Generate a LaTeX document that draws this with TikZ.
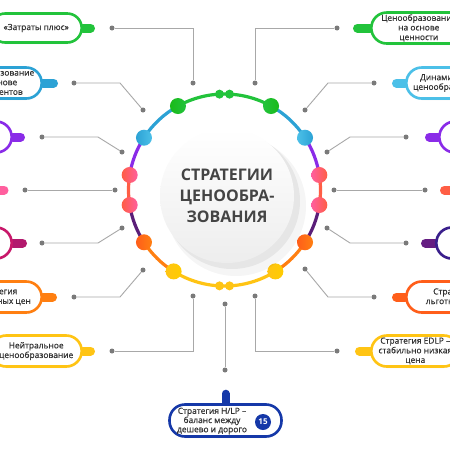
\documentclass[tikz,border=0pt]{standalone}
\usepackage{fontspec}
\setmainfont{Open Sans}
\newfontfamily\boxfont{Open Sans}[FakeBold=0.5]
\usetikzlibrary{shadows, backgrounds}

\definecolor{txtgray}{HTML}{333333}
\definecolor{hubgray}{HTML}{444444}
\definecolor{linkgray}{HTML}{A8A8A8}
\definecolor{dotgray}{HTML}{7A7A7A}
\definecolor{cgreen}{HTML}{22C33B}
\definecolor{cblue}{HTML}{2CA2D5}
\definecolor{clblue}{HTML}{4CC0E8}
\definecolor{cviolet}{HTML}{8A2BE8}
\definecolor{cpink}{HTML}{FF5F9E}
\definecolor{cred}{HTML}{FF5E45}
\definecolor{cmagenta}{HTML}{C8186A}
\definecolor{cplum}{HTML}{5A1E78}
\definecolor{cindigo}{HTML}{3A1F8C}
\definecolor{corange}{HTML}{FF7F11}
\definecolor{cdorange}{HTML}{FF5E1A}
\definecolor{cyellow}{HTML}{FFC414}
\definecolor{cnavy}{HTML}{1538A8}

\begin{document}
\begin{tikzpicture}[x=1pt, y=-1pt,
        box/.style={draw, line width=2.6pt, fill=white,
            rounded corners=15.5pt, minimum height=31pt,
            inner xsep=3pt, inner ysep=1pt, align=center, text=txtgray,
            font=\boxfont\fontsize{8.4}{9.6}\selectfont,
            drop shadow={opacity=0.15, shadow xshift=0pt, shadow yshift=-1.5pt}},
        tab/.style={line width=9pt, line cap=round},
        dot/.style={circle, fill=dotgray, inner sep=0pt, minimum size=5pt},
        link/.style={draw=linkgray, line width=0.9pt},
        bead/.style={circle, inner sep=0pt, minimum size=16pt},
        pip/.style={circle, inner sep=0pt, minimum size=9pt},
        ring/.style={line width=3.2pt}]

    \useasboundingbox (0,0) rectangle (450,450);
    \clip (0,0) rectangle (450,450);
    \begin{scope}[on background layer]
        \fill[white] (0,0) rectangle (450,450);
    \end{scope}

    % Left boxes
    \node (zatr) [box, draw=cgreen, anchor=east, minimum width=91pt,
        minimum height=29pt, rounded corners=14.5pt] at (83,28) {«Затраты плюс»};
    \node (konk) [box, draw=cblue, anchor=east, minimum width=90pt]
        at (43,83) {Ценообразование\\на основе\\конкурентов};
    \node (left3) [box, draw=cviolet, anchor=east, minimum width=90pt] at (13,137) {};
    \node (left4) [box, draw=cpink, anchor=east, minimum width=90pt] at (-3,190) {};
    \node (left5) [box, draw=cmagenta, anchor=east, minimum width=90pt] at (13,243) {};
    \node (prest) [box, draw=corange, anchor=east, minimum width=90pt]
        at (43,297) {Стратегия\\престижных цен};
    \node (neutr) [box, draw=cyellow, anchor=east, minimum width=91pt]
        at (83,351) {Нейтральное\\ценообразование};

    % Right boxes
    \node (cenn) [box, draw=cgreen, anchor=west, minimum width=95pt]
        at (370,28) {Ценообразование\\на основе\\ценности};
    \node (dinam) [box, draw=clblue, anchor=west, minimum width=88pt]
        at (405,83) {Динамическое\\ценообразование};
    \node (right3) [box, draw=cviolet, anchor=west, minimum width=90pt] at (438,137) {};
    \node (right4) [box, draw=cred, anchor=west, minimum width=90pt] at (453,190) {};
    \node (right5) [box, draw=cindigo, anchor=west, minimum width=90pt] at (435,243) {};
    \node (lgot) [box, draw=cdorange, anchor=west, minimum width=95pt]
        at (405,297) {Стратегия\\льготных цен};
    \node (edlp) [box, draw=cyellow, anchor=west, minimum width=88pt]
        at (370,351) {Стратегия EDLP –\\стабильно низкая\\цена};

    % Bottom box
    \node (hlp) [box, draw=cnavy, minimum width=112pt, minimum height=32pt]
        at (225.5,420.5) {};
    \node (hlptxt) [align=center, text=txtgray, inner sep=0pt,
        font=\boxfont\fontsize{8.4}{9.2}\selectfont] at (212,421)
        {Стратегия H/LP –\\баланс между\\дешево и дорого};
    \node (num) [circle, fill=cnavy, text=white, inner sep=0pt, minimum size=16pt,
        font=\bfseries\fontsize{8}{8}\selectfont] at (263,422) {15};

    % Tabs
    \begin{scope}[on background layer]
        \draw[tab, cgreen] (zatr.east) -- ++(7.5,0);
        \draw[tab, cblue] (konk.east) -- ++(10.5,0);
        \draw[tab, cviolet] (left3.east) -- ++(7.5,0);
        \draw[tab, cpink] (left4.east) -- ++(7,0);
        \draw[tab, cmagenta!80!cplum] (left5.east) -- ++(9.5,0);
        \draw[tab, corange] (prest.east) -- ++(9.5,0);
        \draw[tab, cyellow] (neutr.east) -- ++(7.5,0);
        \draw[tab, cgreen] (cenn.west) -- ++(-12.5,0);
        \draw[tab, clblue] (dinam.west) -- ++(-8.5,0);
        \draw[tab, cviolet] (right3.west) -- ++(-8.5,0);
        \draw[tab, cred] (right4.west) -- ++(-8.5,0);
        \draw[tab, cindigo!70!cmagenta] (right5.west) -- ++(-9.5,0);
        \draw[tab, cdorange] (lgot.west) -- ++(-8.5,0);
        \draw[tab, cyellow] (edlp.west) -- ++(-10.5,0);
        \draw[tab, line width=8pt, cnavy] (hlp.north) -- ++(0,-9.5);
    \end{scope}

    % Links, left side
    \node (l1o) [dot] at (112,28) {};
    \node (l1i) [dot] at (193,83) {};
    \draw[link] (l1o) -- (l1o -| l1i) -- (l1i);

    \node (l2o) [dot] at (74,83) {};
    \node (l2i) [dot] at (143,110) {};
    \coordinate (l2b) at (120,83);
    \draw[link] (l2o) -- (l2b) -- (l2i);

    \node (l3o) [dot] at (42,137) {};
    \node (l3i) [dot] at (122,152) {};
    \coordinate (l3b) at (98,137);
    \draw[link] (l3o) -- (l3b) -- (l3i);

    \node (l4o) [dot] at (25,190) {};
    \node (l4i) [dot] at (115,190) {};
    \draw[link] (l4o) -- (l4i);

    \node (l5o) [dot] at (42,243) {};
    \node (l5i) [dot] at (122,228) {};
    \coordinate (l5b) at (98,243);
    \draw[link] (l5o) -- (l5b) -- (l5i);

    \node (l6o) [dot] at (74,297) {};
    \node (l6i) [dot] at (143,270) {};
    \coordinate (l6b) at (120,297);
    \draw[link] (l6o) -- (l6b) -- (l6i);

    \node (l7o) [dot] at (112,351) {};
    \node (l7i) [dot] at (193,296) {};
    \draw[link] (l7o) -- (l7o -| l7i) -- (l7i);

    % Links, right side
    \node (r1o) [dot] at (337,28) {};
    \node (r1i) [dot] at (255,83) {};
    \draw[link] (r1o) -- (r1o -| r1i) -- (r1i);

    \node (r2o) [dot] at (374,83) {};
    \node (r2i) [dot] at (305,110) {};
    \coordinate (r2b) at (328,83);
    \draw[link] (r2o) -- (r2b) -- (r2i);

    \node (r3o) [dot] at (406,137) {};
    \node (r3i) [dot] at (327,152) {};
    \coordinate (r3b) at (350,137);
    \draw[link] (r3o) -- (r3b) -- (r3i);

    \node (r4o) [dot] at (425,190) {};
    \node (r4i) [dot] at (334,190) {};
    \draw[link] (r4o) -- (r4i);

    \node (r5o) [dot] at (406,243) {};
    \node (r5i) [dot] at (327,228) {};
    \coordinate (r5b) at (350,243);
    \draw[link] (r5o) -- (r5b) -- (r5i);

    \node (r6o) [dot] at (374,297) {};
    \node (r6i) [dot] at (305,269) {};
    \coordinate (r6b) at (328,297);
    \draw[link] (r6o) -- (r6b) -- (r6i);

    \node (r7o) [dot] at (337,351) {};
    \node (r7i) [dot] at (255,296) {};
    \draw[link] (r7o) -- (r7o -| r7i) -- (r7i);

    % Link, bottom
    \node (bi) [dot] at (225,304) {};
    \node (bo) [dot] at (225,370) {};
    \draw[link] (bi) -- (bo);

    % Ring
    \begin{scope}[shift={(224.5,190)}]
        \draw[ring, cgreen] (-119:96) arc[start angle=-119, end angle=-61, radius=96];
        \draw[ring, cblue] (-147:96) arc[start angle=-147, end angle=-119, radius=96];
        \draw[ring, cblue] (-61:96) arc[start angle=-61, end angle=-33, radius=96];
        \draw[ring, cviolet] (-171:96) arc[start angle=-171, end angle=-147, radius=96];
        \draw[ring, cviolet] (-33:96) arc[start angle=-33, end angle=-9, radius=96];
        \draw[ring, cred] (171:96) arc[start angle=171, end angle=189, radius=96];
        \draw[ring, cred] (-9:96) arc[start angle=-9, end angle=9, radius=96];
        \draw[ring, cplum] (147:96) arc[start angle=147, end angle=171, radius=96];
        \draw[ring, cplum] (9:96) arc[start angle=9, end angle=33, radius=96];
        \draw[ring, corange] (122:96) arc[start angle=122, end angle=147, radius=96];
        \draw[ring, corange] (33:96) arc[start angle=33, end angle=58, radius=96];
        \draw[ring, cyellow] (58:96) arc[start angle=58, end angle=122, radius=96];

        % Beads
        \node (pg1) [pip, fill=cgreen] at (-93:96) {};
        \node (pg2) [pip, fill=cgreen] at (-87:96) {};
        \node (py1) [pip, fill=cyellow] at (93:96) {};
        \node (py2) [pip, fill=cyellow] at (87:96) {};
        \node (bg1) [bead, left color=green!70!black!90, right color=cgreen] at (-119:96) {};
        \node (bg2) [bead, left color=cgreen, right color=green!70!black!90] at (-61:96) {};
        \node (bb1) [bead, left color=cblue, right color=clblue] at (-147:96) {};
        \node (bb2) [bead, left color=clblue, right color=cblue] at (-33:96) {};
        \node (bp1) [bead, left color=cred, right color=cpink] at (-171:96) {};
        \node (bp2) [bead, left color=cred, right color=cpink] at (171:96) {};
        \node (bp3) [bead, left color=cpink, right color=cred] at (-9:96) {};
        \node (bp4) [bead, left color=cpink, right color=cred] at (9:96) {};
        \node (bo1) [bead, left color=cdorange, right color=corange] at (147:96) {};
        \node (bo2) [bead, left color=cdorange, right color=corange] at (33:96) {};
        \node (by1) [bead, left color=cyellow, right color=yellow!60!orange] at (122:96) {};
        \node (by2) [bead, left color=cyellow, right color=yellow!60!orange] at (58:96) {};
    \end{scope}

    % Hub
    \fill[black, opacity=0.04] (236,206) circle (70);
    \fill[black, opacity=0.06] (232,201) circle (68);
    \node (hub) [circle, minimum size=134pt, top color=white, bottom color=gray!14,
        text=hubgray, align=center, font=\bfseries\fontsize{16}{21}\selectfont]
        at (227,196) {СТРАТЕГИИ\\ЦЕНООБРА-\\ЗОВАНИЯ};
\end{tikzpicture}
\end{document}
